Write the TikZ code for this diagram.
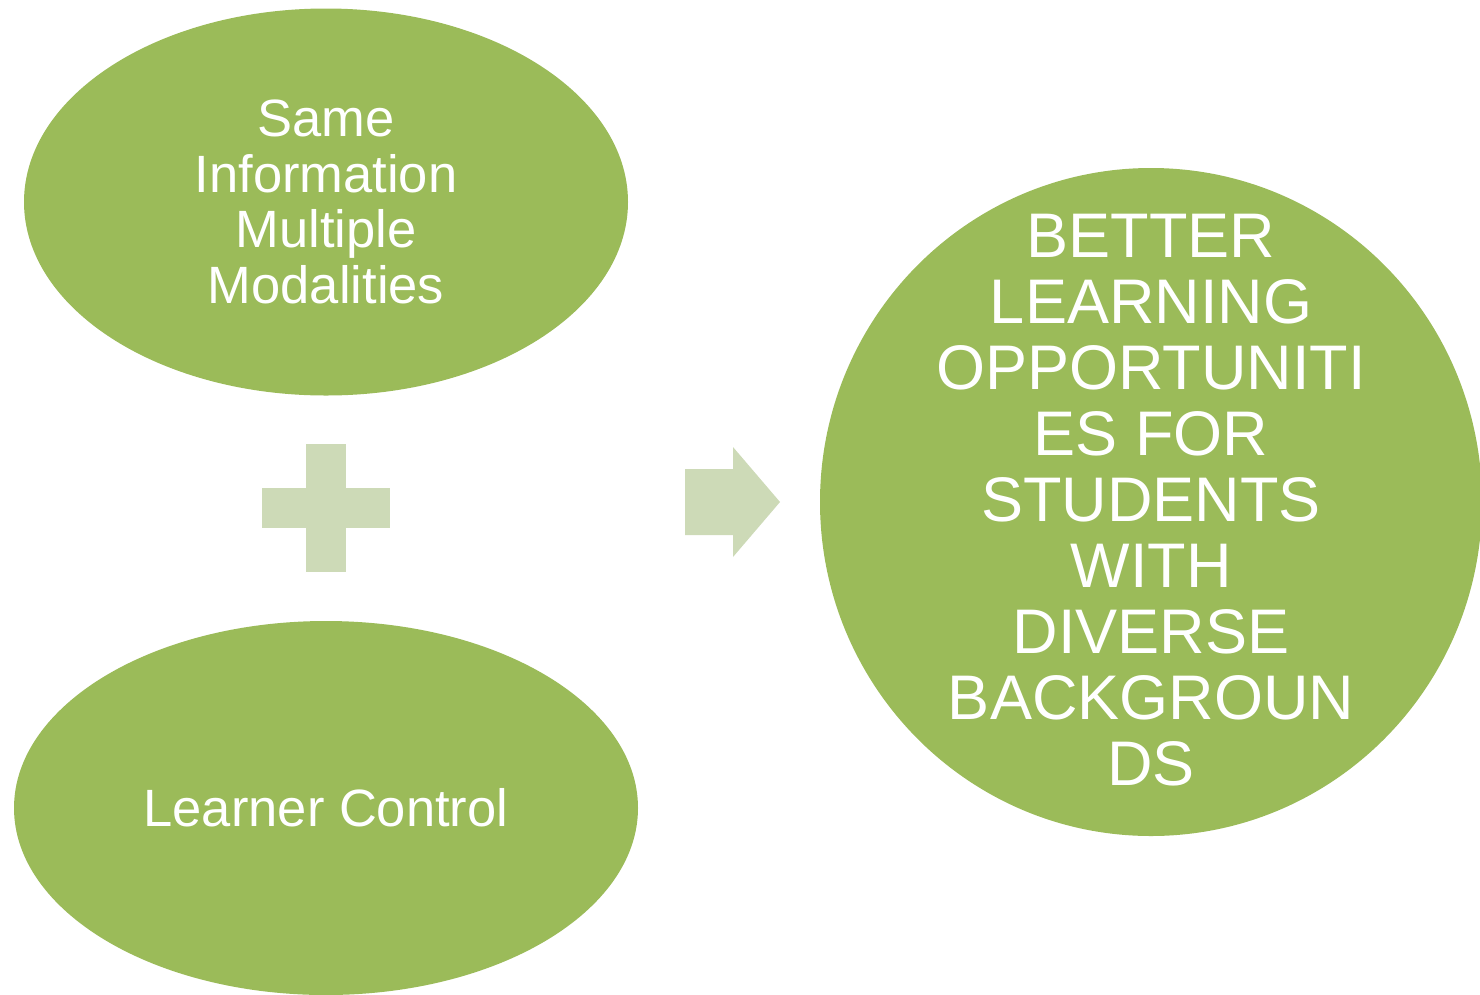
\documentclass[tikz,border=0pt]{standalone}
\usepackage{fontspec}
\setmainfont{Liberation Sans}
\usetikzlibrary{shapes,positioning}
\usepackage{xcolor}
\definecolor{ideagreen}{RGB}{155,187,89}
\definecolor{ideapale}{RGB}{205,218,183}

\begin{document}
\begin{tikzpicture}[x=1pt, y=-1pt,
    idea/.style={ellipse, fill=ideagreen, text=white, inner sep=0pt, align=center,
                 font=\fontsize{52.5}{55.5}\selectfont},
    goal/.style={text=white, inner sep=0pt, align=center,
                 font=\fontsize{63}{66}\selectfont}]
    \useasboundingbox (0,0) rectangle (1480,994);

    % Left side
    \node[idea, minimum width=604pt, minimum height=387pt] (same) at (326,202)
        {Same\\Information\\Multiple\\Modalities};
    \node[idea, minimum width=624pt, minimum height=374pt] (control) at (326,808)
        {Learner Control};

    % Plus sign
    \fill[ideapale] (306,444) rectangle (346,572);
    \fill[ideapale] (262,488) rectangle (390,528);

    % Arrow
    \fill[ideapale] (685,469) -- (733,469) -- (733,447) -- (780,502)
        -- (733,557) -- (733,535) -- (685,535) -- cycle;

    % Right side
    \fill[ideagreen] (1151,502) ellipse (331 and 334);
    \node[goal] (better) at (1151,500)
        {BETTER\\LEARNING\\OPPORTUNITI\\ES FOR\\STUDENTS\\WITH\\DIVERSE\\BACKGROUN\\DS};
\end{tikzpicture}
\end{document}
